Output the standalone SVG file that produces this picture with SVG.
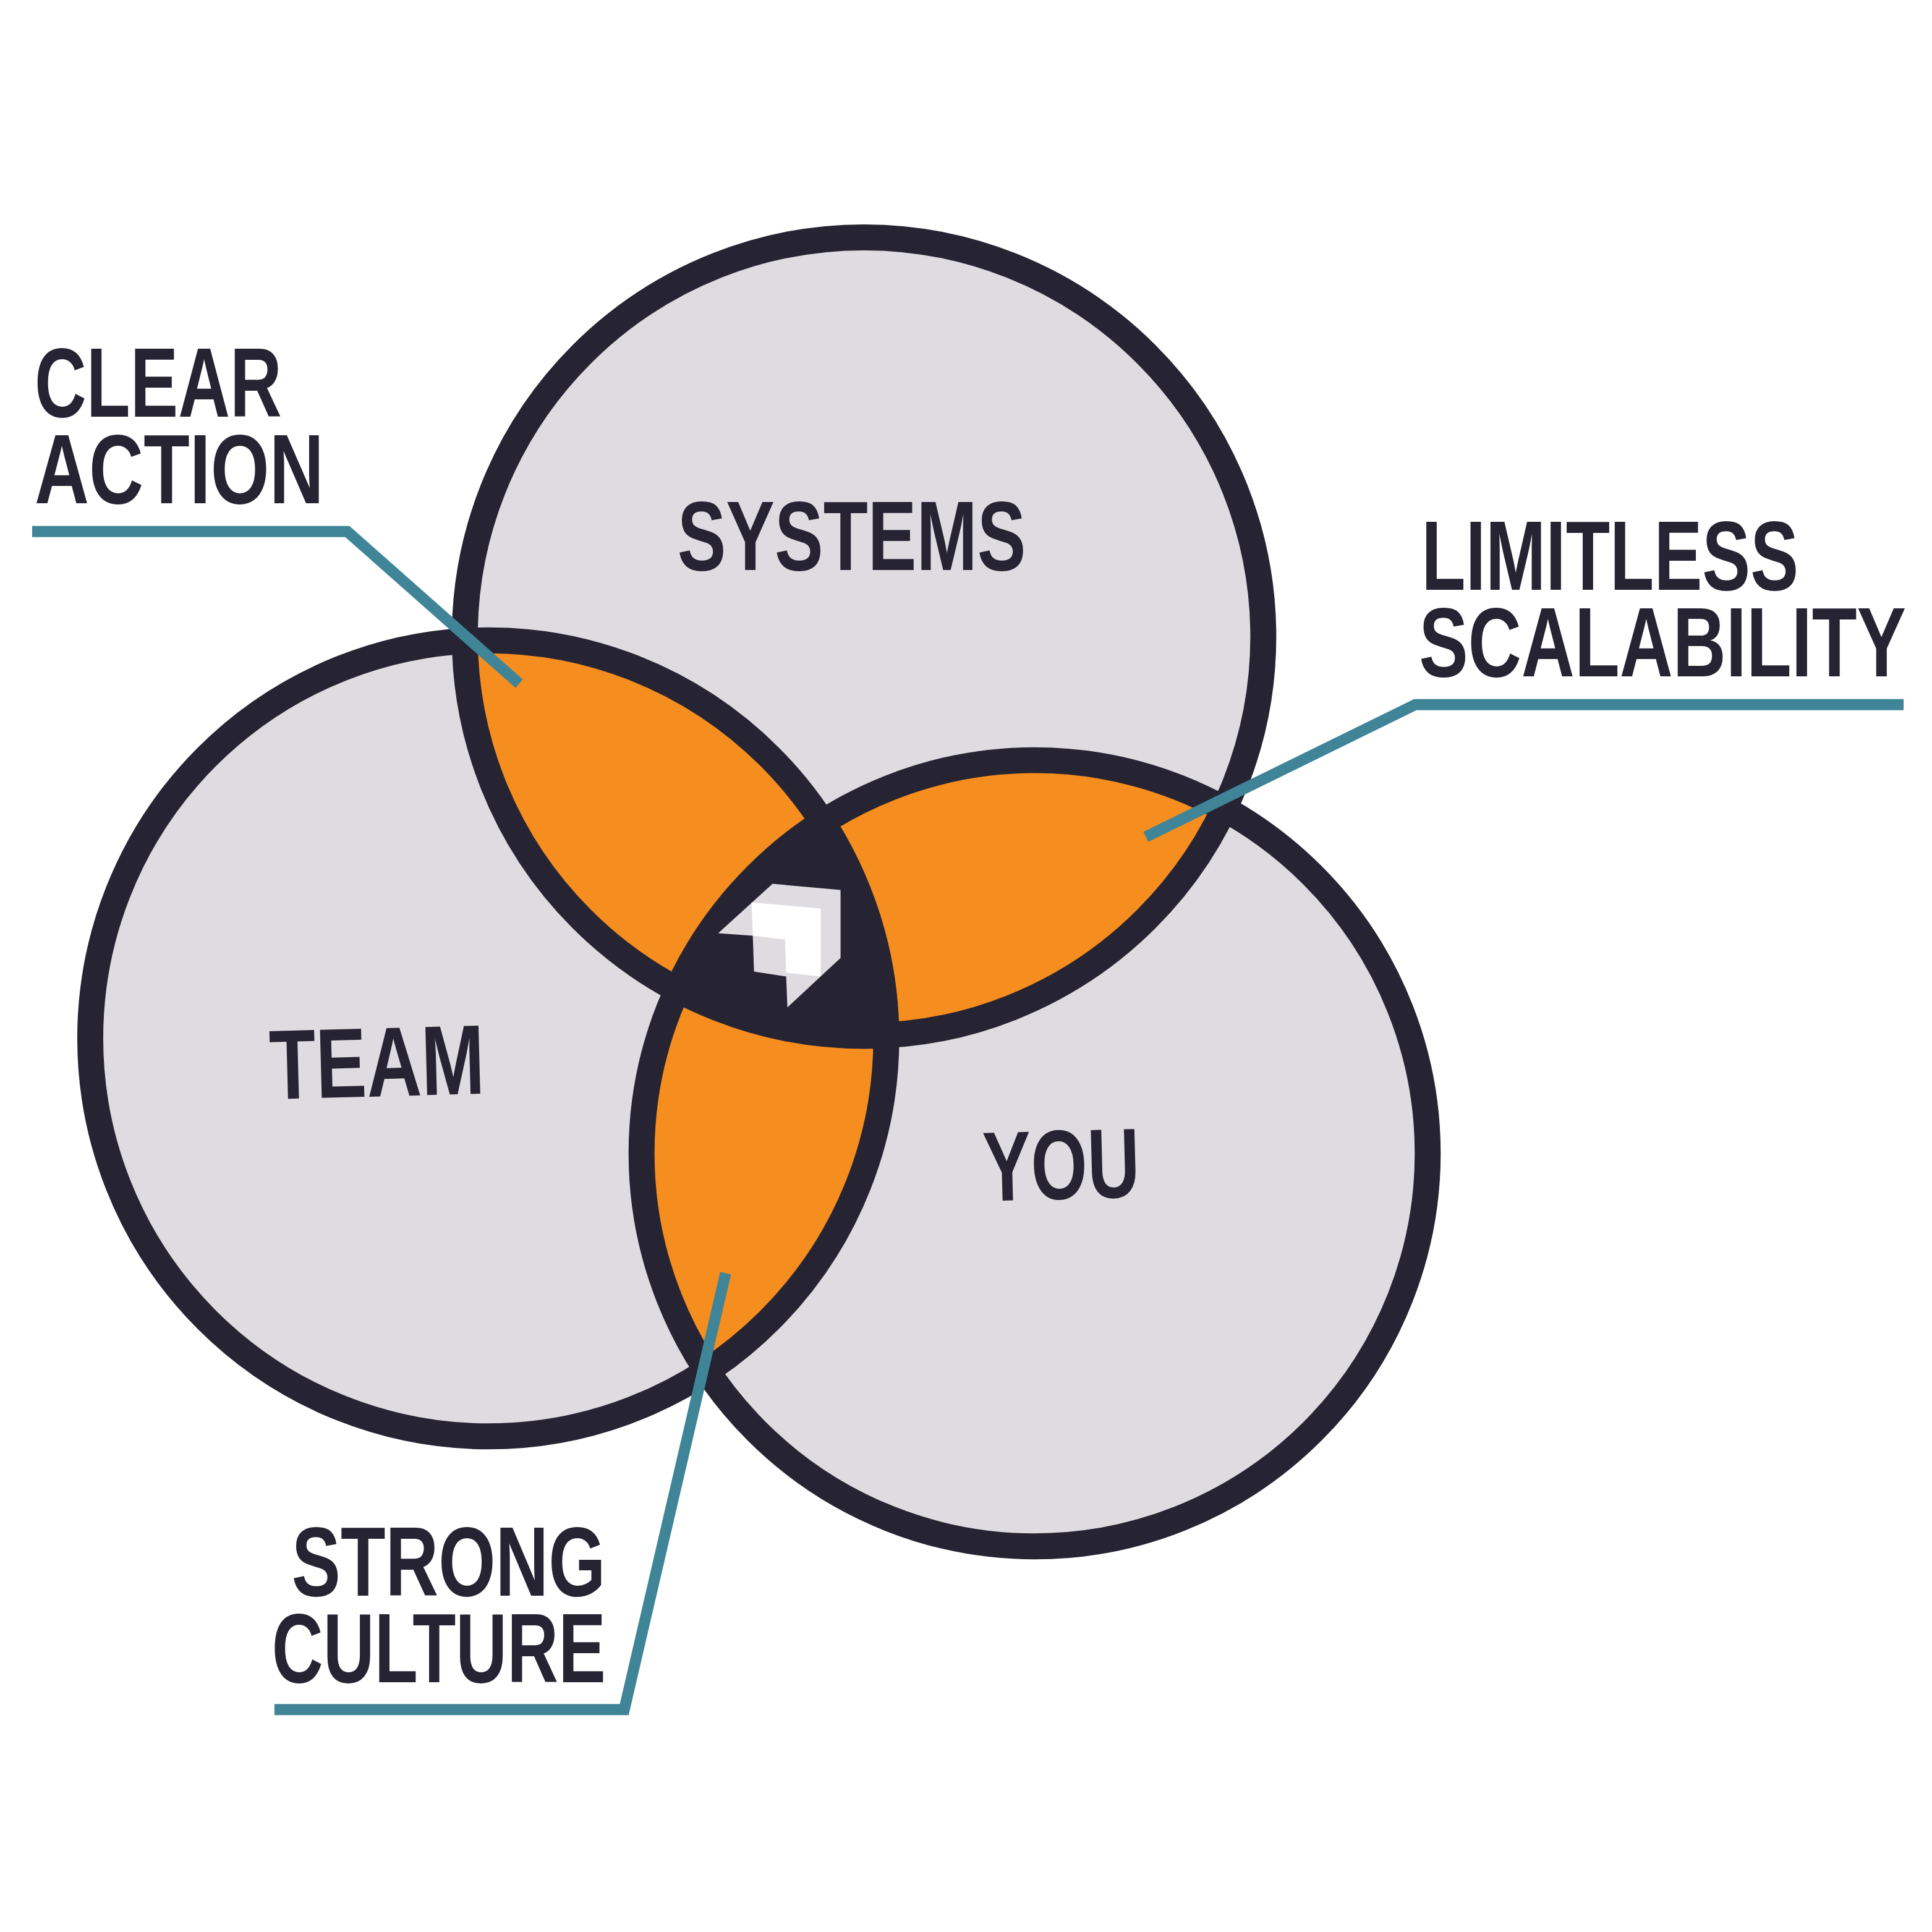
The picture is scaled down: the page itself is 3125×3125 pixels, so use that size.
<svg xmlns="http://www.w3.org/2000/svg" width="3125" height="3125" viewBox="0 0 3125 3125">
<style>
.c{fill:#dedce0;stroke:none}
.o{stroke:#262433;stroke-width:21;fill:none}
.t{font-family:"Liberation Sans",Arial,sans-serif;font-weight:bold;font-size:80px;fill:#262433}
.l{stroke:#3f8597;stroke-width:9;fill:none}
</style>
<defs>
<clipPath id="cs"><circle cx="699" cy="515" r="323"/></clipPath>
<clipPath id="ct"><circle cx="395" cy="840" r="322"/></clipPath>
<clipPath id="cy"><circle cx="837" cy="933" r="318"/></clipPath>
</defs>
<rect width="3125" height="3125" fill="#fff"/>
<g transform="scale(1.9994)">
<g id="circles">
<circle class="c" cx="699" cy="515" r="323"/>
<circle class="c" cx="395" cy="840" r="322"/>
<circle class="c" cx="837" cy="933" r="318"/>
<g clip-path="url(#cs)"><circle cx="395" cy="840" r="322" fill="#f68d1f"/><circle cx="837" cy="933" r="318" fill="#f68d1f"/></g>
<g clip-path="url(#ct)"><circle cx="837" cy="933" r="318" fill="#f68d1f"/></g>
<g clip-path="url(#cs)"><g clip-path="url(#ct)"><circle cx="837" cy="933" r="318" fill="#262433"/></g></g>
<circle class="o" cx="699" cy="515" r="323"/>
<circle class="o" cx="395" cy="840" r="322"/>
<circle class="o" cx="837" cy="933" r="318"/>
</g>
<g id="icon">
<polygon points="625,715 680,720 680,775 637,815 636,790 610,786 609,757 581,755" fill="#dedce0"/>
<polygon points="608,730 664,735 664,790 636,787 635,760 609,757" fill="#fff"/>
</g>
<g id="connectors">
<polyline class="l" points="26,430 281,430 420,553"/>
<polyline class="l" points="927,677 1145,570 1540,570"/>
<polyline class="l" points="222,1383 505,1383 587,1030"/>
</g>
<g id="labels">
<text class="t" x="28" y="337" textLength="200" lengthAdjust="spacingAndGlyphs">CLEAR</text>
<text class="t" x="28" y="407" textLength="234" lengthAdjust="spacingAndGlyphs">ACTION</text>
<text class="t" x="548" y="461" textLength="282" lengthAdjust="spacingAndGlyphs">SYSTEMS</text>
<text class="t" x="1150" y="477" textLength="305" lengthAdjust="spacingAndGlyphs">LIMITLESS</text>
<text class="t" x="1148" y="547" textLength="394" lengthAdjust="spacingAndGlyphs">SCALABILITY</text>
<text class="t" x="218" y="887" textLength="174" lengthAdjust="spacingAndGlyphs" transform="rotate(-1.5 305 860)">TEAM</text>
<text class="t" x="795" y="970" textLength="127" lengthAdjust="spacingAndGlyphs" transform="rotate(-1.5 858 943)">YOU</text>
<text class="t" x="236" y="1291" textLength="254" lengthAdjust="spacingAndGlyphs">STRONG</text>
<text class="t" x="220" y="1361" textLength="270" lengthAdjust="spacingAndGlyphs">CULTURE</text>
</g>
</g>
</svg>
